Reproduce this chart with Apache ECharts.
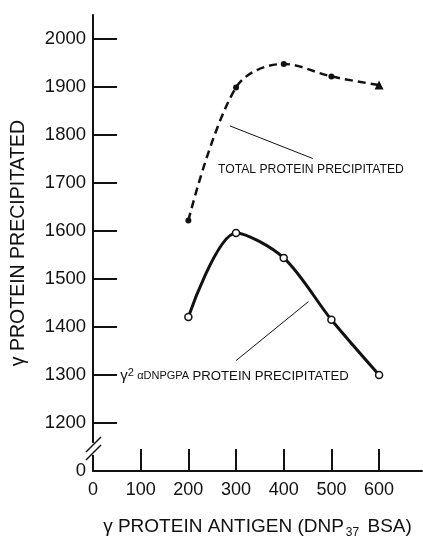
<!DOCTYPE html>
<html>
<head>
<meta charset="utf-8">
<script src="https://cdn.jsdelivr.net/npm/echarts@6/dist/echarts.min.js"></script>
<style>
html,body{margin:0;padding:0;background:#fff;}
#chart{width:423px;height:536px;}
</style>
</head>
<body>
<div id="chart"></div>
<script>
// ---- data ----
const antigenDoses = [200, 300, 400, 500, 600];
const totalProtein = [1622, 1899, 1948, 1922, 1904];
const gamma2Protein = [1421, 1596, 1544, 1415, 1300];
const yTickValues = [1200, 1300, 1400, 1500, 1600, 1700, 1800, 1900, 2000];
const yLabelValues = [0, 1200, 1300, 1400, 1500, 1600, 1700, 1800, 1900, 2000];
const xTickValues = [100, 200, 300, 400, 500, 600];
const xLabelValues = [0, 100, 200, 300, 400, 500, 600];
const yBreak = {start: 50, end: 1150};

// annotation anchors in data space
const totalLabelAt = [262, 1727];
const totalLeader = [[287, 1819], [461, 1751]];
const gammaLabelAt = [57, 1298];
const gammaLeader = [[300, 1330], [452, 1453]];

const FONT = 'Liberation Sans, Arial, sans-serif';
const INK = '#111';

const chart = echarts.init(document.getElementById('chart'), null, {renderer: 'canvas'});

const totalData = antigenDoses.map((x, i) => {
  const d = {value: [x, totalProtein[i]]};
  if (i === antigenDoses.length - 1) { d.symbol = 'triangle'; d.symbolSize = 9; }
  return d;
});
const gammaData = antigenDoses.map((x, i) => [x, gamma2Protein[i]]);

chart.setOption({
  animation: false,
  backgroundColor: '#fff',
  grid: {left: 93, right: 1, top: 15, bottom: 65, containLabel: false, outerBoundsMode: 'none'},
  xAxis: {
    type: 'value', min: 0, max: 690,
    name: '{a|γ PROTEIN ANTIGEN (DNP}{s|37}{a| BSA)}',
    nameLocation: 'middle', nameGap: 44,
    nameTextStyle: {
      rich: {
        a: {fontFamily: FONT, fontSize: 19, color: INK},
        s: {fontFamily: FONT, fontSize: 12, color: INK, verticalAlign: 'bottom', padding: [12, 3, 0, 2]}
      }
    },
    axisLine: {onZero: false, lineStyle: {color: INK, width: 2}},
    axisTick: {inside: true, length: 22, lineStyle: {color: INK, width: 2}, customValues: xTickValues},
    axisLabel: {customValues: xLabelValues, formatter: v => String(v), fontFamily: FONT, fontSize: 18, color: INK, margin: 10},
    splitLine: {show: false}
  },
  yAxis: {
    type: 'value', min: 0, max: 2050,
    breaks: [{start: yBreak.start, end: yBreak.end, gap: 0}],
    breakArea: {show: false},
    name: 'γ PROTEIN PRECIPITATED',
    nameLocation: 'middle', nameGap: 64,
    nameTextStyle: {fontFamily: FONT, fontSize: 19.5, color: INK},
    axisLine: {onZero: false, lineStyle: {color: INK, width: 2}},
    axisTick: {inside: true, length: 24, lineStyle: {color: INK, width: 2}, customValues: yTickValues},
    axisLabel: {customValues: yLabelValues, formatter: v => String(v), fontFamily: FONT, fontSize: 18.5, color: INK, margin: 7},
    splitLine: {show: false}
  },
  series: [
    {
      name: 'TOTAL PROTEIN PRECIPITATED',
      type: 'line', data: totalData, smooth: 0.35,
      symbol: 'circle', symbolSize: 6,
      itemStyle: {color: INK},
      lineStyle: {color: INK, width: 2.5, type: [8, 5]}
    },
    {
      name: 'γ2 αDNPGPA PROTEIN PRECIPITATED',
      type: 'line', data: gammaData, smooth: 0.3,
      symbol: 'circle', symbolSize: 7,
      itemStyle: {color: '#fff', borderColor: INK, borderWidth: 1.5},
      lineStyle: {color: INK, width: 3}
    }
  ]
});

function px(p) { return chart.convertToPixel({xAxisIndex: 0, yAxisIndex: 0}, p); }

const g = [];
// leaders
[totalLeader, gammaLeader].forEach(l => {
  const a = px(l[0]), b = px(l[1]);
  g.push({type: 'line', shape: {x1: a[0], y1: a[1], x2: b[0], y2: b[1]}, style: {stroke: INK, lineWidth: 1}, z: 10});
});
const t1 = px(totalLabelAt);
g.push({type: 'text', x: t1[0], y: t1[1], z: 10,
  style: {text: 'TOTAL PROTEIN PRECIPITATED', font: '12.2px ' + FONT, fill: INK, textVerticalAlign: 'middle', textAlign: 'left'}});
const t2 = px(gammaLabelAt);
g.push({type: 'text', x: t2[0], y: t2[1], z: 10,
  style: {
    text: '{g|γ}{s|2} {a|αDNPGPA} {b|PROTEIN PRECIPITATED}',
    textVerticalAlign: 'middle', textAlign: 'left',
    rich: {
      g: {font: '15px ' + FONT, fill: INK},
      s: {font: '11px ' + FONT, fill: INK, verticalAlign: 'top', padding: [0, 0, 5, 0]},
      a: {font: '11px ' + FONT, fill: INK},
      b: {font: '13.2px ' + FONT, fill: INK}
    }
  }});
// axis break marks (drawn relative to the axis origin)
const origin = px([0, 0]);
const bx = origin[0], oy = origin[1];
g.push({type: 'rect', shape: {x: bx - 3, y: oy - 28, width: 6, height: 12}, style: {fill: '#fff'}, z: 20});
g.push({type: 'line', shape: {x1: bx - 7, y1: oy - 19, x2: bx + 8, y2: oy - 34}, style: {stroke: INK, lineWidth: 1.5}, z: 21});
g.push({type: 'line', shape: {x1: bx - 7, y1: oy - 11, x2: bx + 8, y2: oy - 26}, style: {stroke: INK, lineWidth: 1.5}, z: 21});
chart.setOption({graphic: g});
</script>
</body>
</html>
